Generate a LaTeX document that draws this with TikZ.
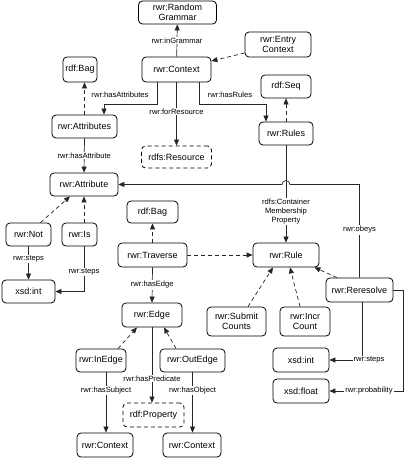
\documentclass[tikz,border=0pt]{standalone}
\usepackage{fontspec}
\setmainfont{Liberation Sans}
\usetikzlibrary{arrows.meta,calc}
\begin{document}
\begin{tikzpicture}[x=1pt,y=-1pt,
  box/.style={draw=black,line width=0.8pt,rounded corners=4pt,inner sep=0pt,align=center,font=\fontsize{9}{10.5}\selectfont},
  dbox/.style={box,dash pattern=on 4pt off 3pt},
  arr/.style={line width=0.7pt,draw=black!85,-{Triangle[length=6pt,width=5pt]}},
  darr/.style={arr,dash pattern=on 4pt off 3pt},
  lab/.style={fill=white,inner sep=1pt,font=\fontsize{7.6}{8.6}\selectfont,align=center}]
\useasboundingbox (0,0) rectangle (407,460);
% nodes
\node[box,minimum width=78pt,minimum height=23pt] (rg) at (177.5,12.5) {rwr:Random\\Grammar};
\node[box,minimum width=69pt,minimum height=25pt] (ctx) at (176.5,69.5) {rwr:Context};
\node[box,minimum width=66pt,minimum height=25pt] (entry) at (278,44.5) {rwr:Entry\\Context};
\node[box,minimum width=34pt,minimum height=25pt] (bag1) at (80,69.5) {rdf:Bag};
\node[box,minimum width=65pt,minimum height=23pt] (attrs) at (84.5,126.5) {rwr:Attributes};
\node[box,minimum width=50pt,minimum height=23pt] (seq) at (286,86.5) {rdf:Seq};
\node[box,minimum width=54pt,minimum height=23pt] (rules) at (286,133.5) {rwr:Rules};
\node[dbox,minimum width=70pt,minimum height=22pt] (res) at (176.5,157) {rdfs:Resource};
\node[box,minimum width=68pt,minimum height=23pt] (attr) at (84,184.5) {rwr:Attribute};
\node[box,minimum width=45pt,minimum height=23pt] (not) at (28.5,234.5) {rwr:Not};
\node[box,minimum width=35pt,minimum height=23pt] (is) at (79.5,234.5) {rwr:Is};
\node[box,minimum width=53pt,minimum height=23pt] (int1) at (28.5,291.5) {xsd:int};
\node[box,minimum width=51pt,minimum height=22pt] (bag2) at (152.5,212) {rdf:Bag};
\node[box,minimum width=69pt,minimum height=24pt] (trav) at (152.5,255) {rwr:Traverse};
\node[box,minimum width=66pt,minimum height=24pt] (rule) at (286,255) {rwr:Rule};
\node[box,minimum width=67pt,minimum height=24pt] (reres) at (359.5,290) {rwr:Reresolve};
\node[box,minimum width=60pt,minimum height=24pt] (edge) at (152,315) {rwr:Edge};
\node[box,minimum width=50pt,minimum height=23pt] (inedge) at (101,360.5) {rwr:InEdge};
\node[box,minimum width=65pt,minimum height=23pt] (outedge) at (192.5,360.5) {rwr:OutEdge};
\node[dbox,minimum width=61pt,minimum height=24pt] (prop) at (153.5,415) {rdf:Property};
\node[box,minimum width=56pt,minimum height=24pt] (ctx2) at (105,445) {rwr:Context};
\node[box,minimum width=58pt,minimum height=24pt] (ctx3) at (192,445) {rwr:Context};
\node[box,minimum width=59pt,minimum height=29pt] (submit) at (236.5,321.5) {rwr:Submit\\Counts};
\node[box,minimum width=50pt,minimum height=29pt] (incr) at (305,321.5) {rwr:Incr\\Count};
\node[box,minimum width=56pt,minimum height=24pt] (int2) at (301,360) {xsd:int};
\node[box,minimum width=56pt,minimum height=24pt] (float) at (301,391) {xsd:float};
% connectors
\draw[arr] (ctx) -- (rg) node[lab,pos=0.5] {rwr:inGrammar};
\draw[darr] ($(entry.west)+(0,8.5)$) -- ($(ctx.east)+(0,-8.5)$);
\draw[arr] ($(ctx.south)+(-19.5,0)$) -- ++(0,22) -| ($(attrs.north)+(19.5,0)$);
\node[lab,fill=none] (l1) at (120,95) {rwr:hasAttributes};
\draw[arr] ($(ctx.south)+(22.5,0)$) -- ++(0,22) -| ($(rules.north)+(-20,0)$);
\node[lab,fill=none] (l2) at (230,95) {rwr:hasRules};
\draw[arr] (ctx.south) -- (res.north) node[lab,pos=0.46] {rwr:forResource};
\draw[darr] (attrs.north) -- (attrs.north |- bag1.south);
\draw[arr] (attrs.south) -- (attr.north) node[lab,pos=0.5] {rwr:hasAttribute};
\draw[darr] (rules.north) -- (seq.south);
\draw[arr] (reres.north) |- ($(rules.south |- attr.east)+(4,0)$) arc[start angle=0,end angle=180,radius=4pt] -- (attr.east);
\node[lab] (l3) at (359.5,230) {rwr:obeys};
\draw[arr] (rules.south) -- (rule.north) node[lab,pos=0.68] {rdfs:Container\\Membership\\Property};
\draw[darr] ($(not.north)+(12,0)$) -- ($(attr.south)+(-14,0)$);
\draw[darr] (is.north -| attr.south) -- (attr.south);
\draw[arr] (not.south) -- (int1.north) node[lab,pos=0.38] {rwr:steps};
\draw[arr] (is.south -| attr.south) |- (int1.east);
\node[lab] (l4) at (84,272) {rwr:steps};
\draw[darr] (trav.north) -- (bag2.south);
\draw[darr] (trav.east) -- (rule.west);
\draw[arr] (trav.south) -- (edge.north) node[lab,pos=0.5] {rwr:hasEdge};
\draw[darr] ($(submit.north)+(11.5,0)$) -- ($(rule.south)+(-13,0)$);
\draw[darr] ($(incr.north)+(-5,0)$) -- ($(rule.south)+(4,0)$);
\draw[darr] ($(reres.north)+(-22.5,0)$) -- ($(rule.south east)+(-5,0)$);
\draw[arr] ($(reres.south)+(2.5,0)$) |- (int2.east);
\node[lab] (l5) at (369,360) {rwr:steps};
\draw[arr] (reres.east) -- ++(10,0) |- (float.east);
\node[lab] (l6) at (369,391) {rwr:probability};
\draw[darr] ($(inedge.north)+(17,0)$) -- ($(edge.south)+(-15,0)$);
\draw[darr] ($(outedge.north)+(-16.5,0)$) -- ($(edge.south)+(12,0)$);
\draw[arr] (edge.south) -- (edge.south |- prop.north) node[lab,pos=0.68] {rwr:hasPredicate};
\draw[arr] ($(inedge.south)+(5,0)$) coordinate (a) -- (a |- ctx2.north) node[lab,pos=0.3] {rwr:hasSubject};
\draw[arr] (outedge.south) -- (outedge.south |- ctx3.north) node[lab,pos=0.3] {rwr:hasObject};
\end{tikzpicture}
\end{document}
